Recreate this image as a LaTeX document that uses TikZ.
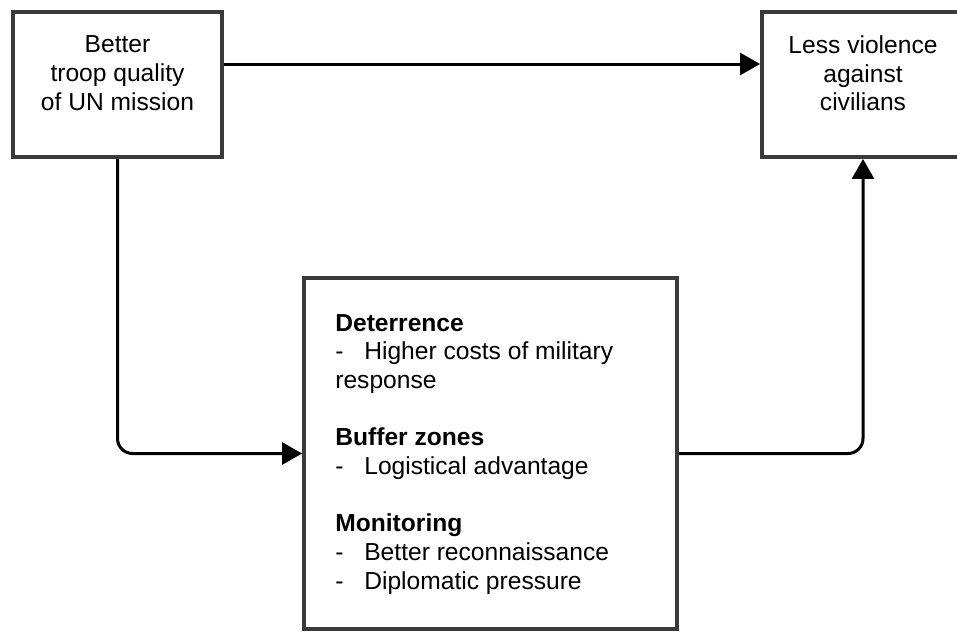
\documentclass[tikz,border=0pt]{standalone}
\usepackage{fontspec}
\setmainfont{Liberation Sans}
\usetikzlibrary{arrows.meta}
\definecolor{boxgray}{HTML}{3A3A3A}
\newcommand\itemdash{\makebox[0.58cm][l]{-}}

\begin{document}
\begin{tikzpicture}[>={Triangle[length=0.4cm,width=0.44cm]}, x=0.02cm, y=-0.02cm,
    box/.style={draw=boxgray, line width=0.08cm, fill=white},
    txt/.style={inner sep=0pt, font=\fontsize{14}{16.3}\selectfont},
    link/.style={->, line width=0.06cm, black, rounded corners=0.3cm}]
    \useasboundingbox (0,0) rectangle (957,632);
    \clip (0,0) rectangle (957,632);

    \node[box, minimum width=4.18cm, minimum height=2.9cm] (troop) at (117.5,84.5) {};
    \node[box, minimum width=4.04cm, minimum height=2.9cm] (violence) at (863,84.5) {};
    \node[box, minimum width=7.46cm, minimum height=7.02cm] (mech) at (490.5,453.5) {};

    \node[txt, align=center, anchor=north] (troopText) at (117.5,35.5) {Better\\troop quality\\of UN mission};
    \node[txt, align=center, anchor=north] (violenceText) at (863,35.5) {Less violence\\against\\civilians};
    \node[txt, align=left, anchor=north west] (mechText) at (335,314)
        {\textbf{Deterrence}\\\itemdash Higher costs of military\\response\\[16.3pt]
         \textbf{Buffer zones}\\\itemdash Logistical advantage\\[16.3pt]
         \textbf{Monitoring}\\\itemdash Better reconnaissance\\\itemdash Diplomatic pressure};

    \draw[link] ([yshift=0.41cm]troop.east) -- ([yshift=0.41cm]violence.west);
    \draw[link] (troop.south) |- (mech.west);
    \draw[link] (mech.east) -| (violence.south);

\end{tikzpicture}
\end{document}
